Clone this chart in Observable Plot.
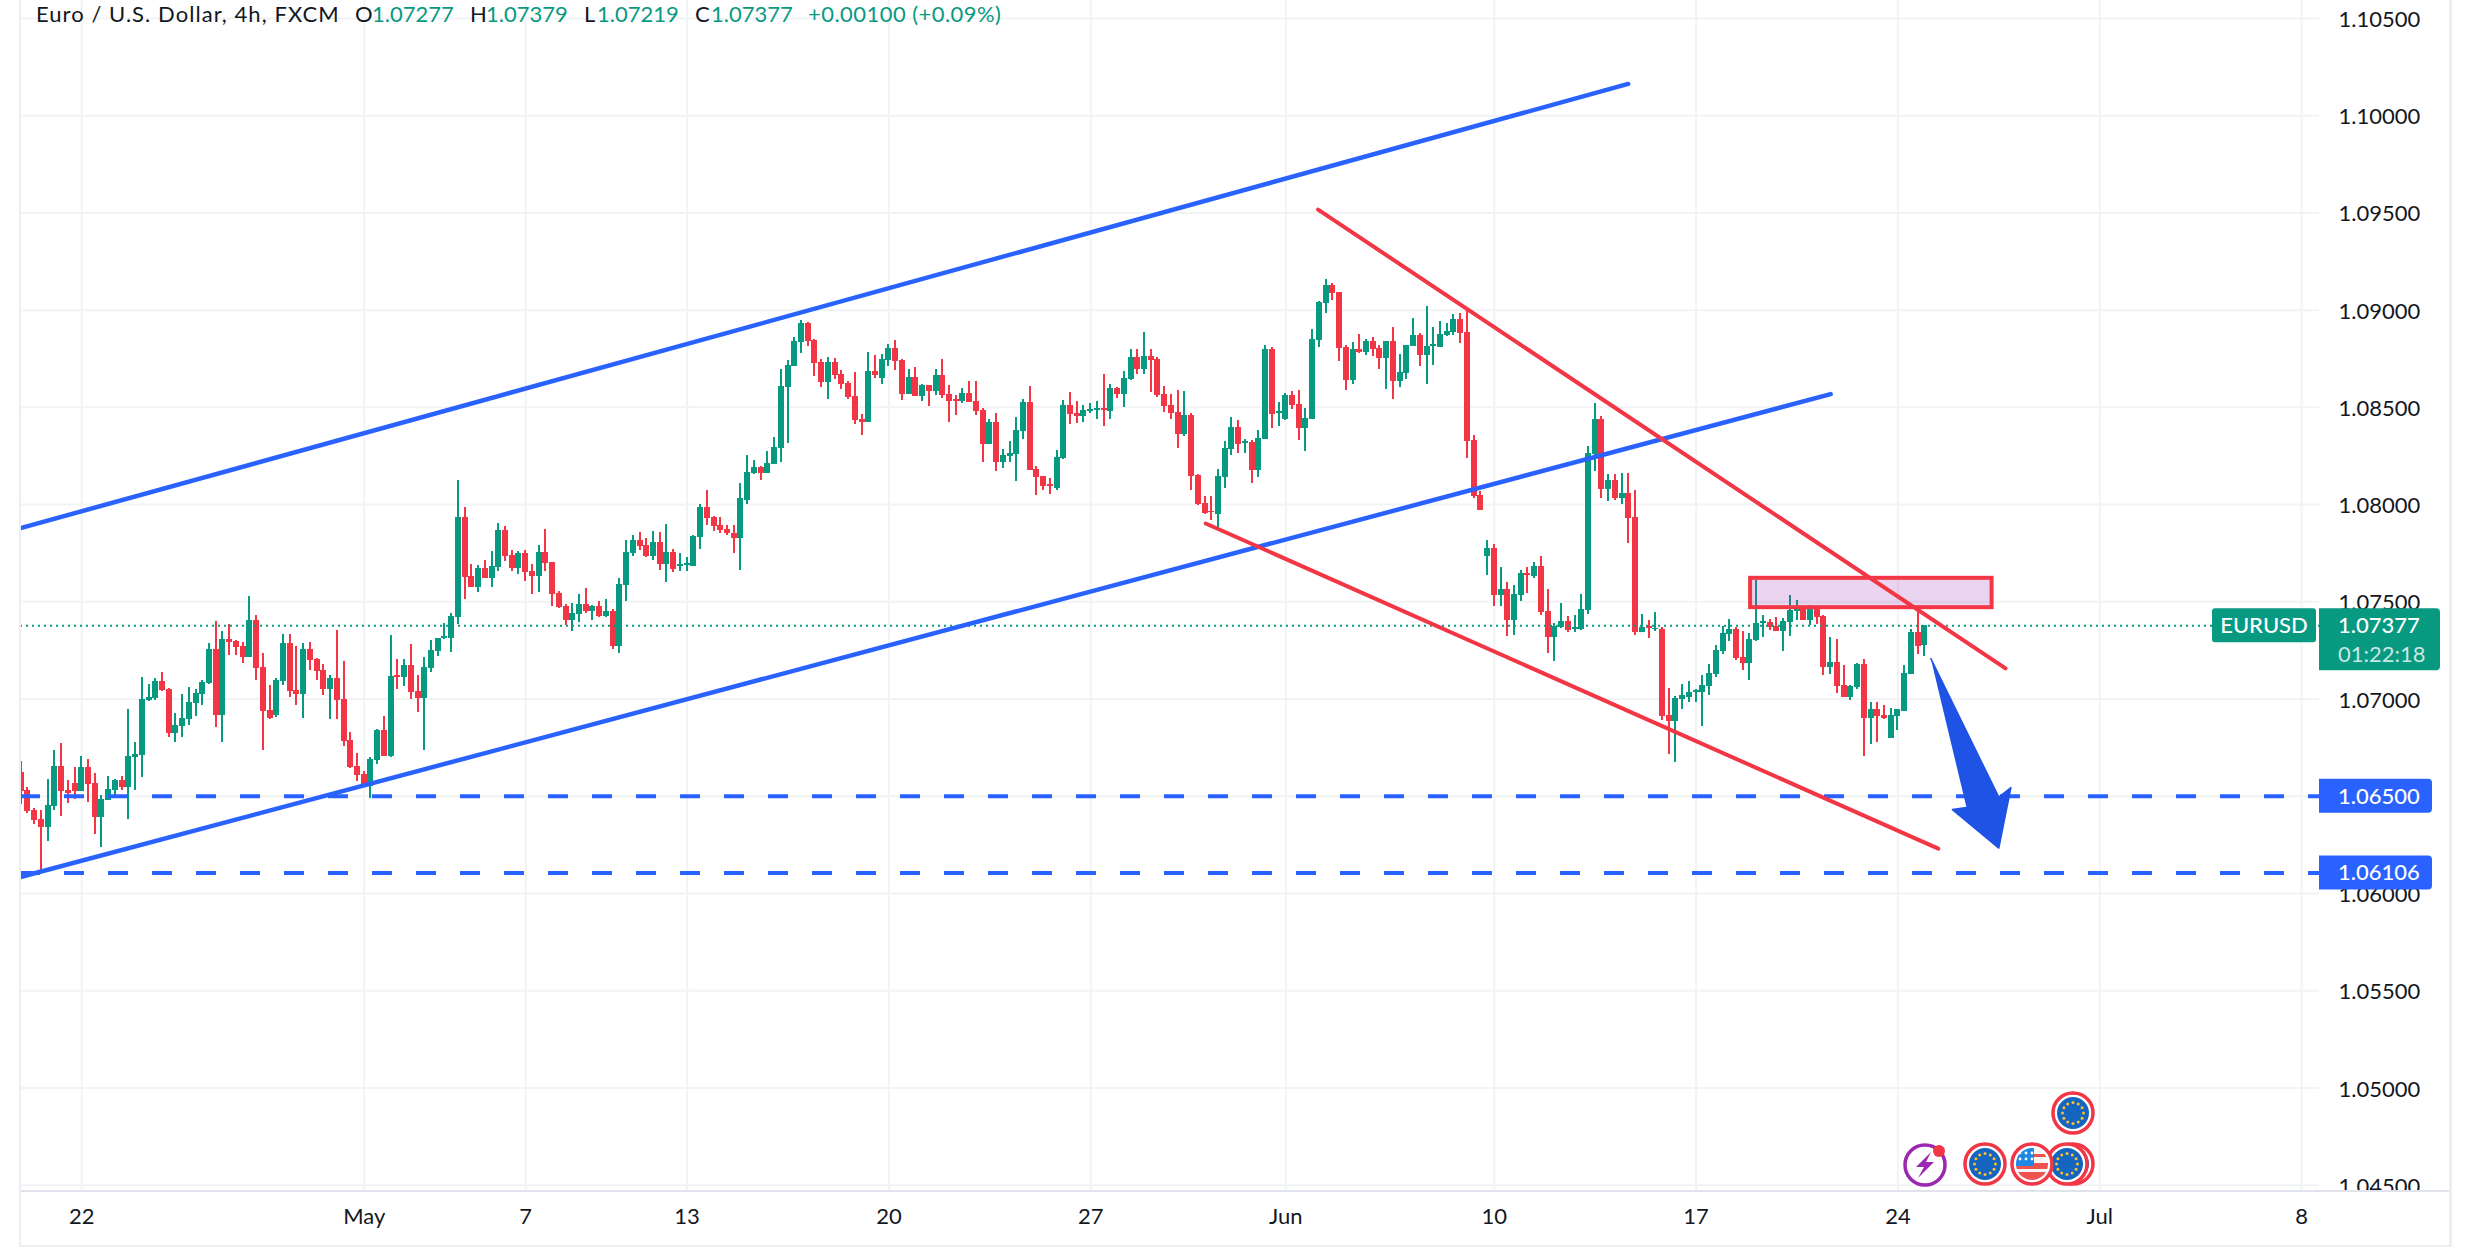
<!DOCTYPE html>
<html><head><meta charset="utf-8">
<script src="https://cdn.jsdelivr.net/npm/d3@7"></script>
<script src="https://cdn.jsdelivr.net/npm/@observablehq/plot@0.6"></script>
<style>html,body{margin:0;padding:0;background:#fff;overflow:hidden}svg{display:block}</style>
</head><body><div id="chart"></div>
<script>
const opens = [
1.06622,1.06530,1.06427,1.06380,1.06339,1.06447,1.06653,1.06530,1.06566,1.06524,
1.06648,1.06566,1.06391,1.06478,1.06530,1.06581,1.06545,1.06700,1.06710,1.06993,
1.07004,1.07091,1.07050,1.06823,1.06860,1.06896,1.06978,1.07024,1.07081,1.07256,
1.06916,1.07308,1.07298,1.07272,1.07215,1.07406,1.07164,1.06942,1.06916,1.07091,
1.07287,1.07045,1.07024,1.07256,1.07205,1.07148,1.07050,1.07107,1.06999,1.06787,
1.06653,1.06612,1.06550,1.06684,1.06839,1.06705,1.07122,1.07112,1.07174,1.07040,
1.07005,1.07158,1.07246,1.07313,1.07313,1.07421,1.07936,1.07632,1.07575,1.07673,
1.07622,1.07679,1.07869,1.07740,1.07673,1.07751,1.07658,1.07632,1.07756,1.07704,
1.07545,1.07478,1.07405,1.07436,1.07488,1.07452,1.07478,1.07426,1.07452,1.07271,
1.07586,1.07751,1.07818,1.07792,1.07735,1.07807,1.07694,1.07756,1.07684,1.07689,
1.07684,1.07833,1.07983,1.07936,1.07895,1.07874,1.07854,1.07828,1.08019,1.08158,
1.08189,1.08158,1.08204,1.08287,1.08601,1.08709,1.08833,1.08931,1.08843,1.08730,
1.08627,1.08730,1.08668,1.08622,1.08555,1.08436,1.08421,1.08684,1.08648,1.08740,
1.08802,1.08740,1.08565,1.08653,1.08555,1.08611,1.08581,1.08663,1.08565,1.08539,
1.08529,1.08570,1.08529,1.08483,1.08307,1.08421,1.08215,1.08246,1.08256,1.08374,
1.08524,1.08179,1.08142,1.08101,1.08081,1.08235,1.08508,1.08467,1.08452,1.08477,
1.08483,1.08493,1.08477,1.08596,1.08566,1.08643,1.08756,1.08694,1.08761,1.08746,
1.08566,1.08509,1.08473,1.08359,1.08457,1.08148,1.08004,1.07963,1.07947,1.08138,
1.08282,1.08396,1.08313,1.08318,1.08174,1.08334,1.08798,1.08468,1.08437,1.08560,
1.08514,1.08390,1.08437,1.08844,1.09036,1.09127,1.09091,1.08808,1.08638,1.08798,
1.08782,1.08839,1.08803,1.08751,1.08839,1.08633,1.08673,1.08812,1.08869,1.08766,
1.08812,1.08807,1.08869,1.08884,1.08951,1.08884,1.08328,1.08045,1.07731,1.07773,
1.07531,1.07562,1.07402,1.07531,1.07644,1.07629,1.07680,1.07449,1.07315,1.07366,
1.07397,1.07356,1.07356,1.07454,1.08256,1.08436,1.08076,1.08123,1.08030,1.08056,
1.07932,1.07344,1.07375,1.07360,1.07360,1.06918,1.06887,1.07000,1.07010,1.07036,
1.07036,1.07067,1.07129,1.07247,1.07334,1.07360,1.07216,1.07185,1.07303,1.07391,
1.07396,1.07375,1.07350,1.07396,1.07452,1.07468,1.07406,1.07463,1.07427,1.07165,
1.07190,1.07072,1.07010,1.07062,1.07180,1.06902,1.06944,1.06918,1.06795,1.06913,
1.06938,1.07129,1.07344,1.07277];
const highs = [
1.06679,1.06543,1.06440,1.06427,1.06586,1.06736,1.06772,1.06581,1.06648,1.06705,
1.06689,1.06617,1.06504,1.06602,1.06586,1.06602,1.06947,1.06777,1.07112,1.07076,
1.07107,1.07138,1.07055,1.06927,1.07024,1.07061,1.07050,1.07097,1.07287,1.07401,
1.07349,1.07385,1.07303,1.07292,1.07530,1.07432,1.07236,1.07071,1.07107,1.07334,
1.07334,1.07272,1.07287,1.07292,1.07210,1.07179,1.07122,1.07354,1.07195,1.06829,
1.06720,1.06628,1.06700,1.06844,1.06911,1.07329,1.07205,1.07205,1.07282,1.07122,
1.07215,1.07302,1.07313,1.07390,1.07441,1.08122,1.07983,1.07694,1.07689,1.07715,
1.07761,1.07905,1.07890,1.07766,1.07761,1.07766,1.07694,1.07792,1.07874,1.07704,
1.07555,1.07488,1.07493,1.07539,1.07570,1.07483,1.07503,1.07514,1.07462,1.07622,
1.07818,1.07843,1.07859,1.07828,1.07864,1.07859,1.07900,1.07771,1.07751,1.07730,
1.07843,1.07998,1.08070,1.07941,1.07936,1.07895,1.07895,1.08106,1.08251,1.08225,
1.08194,1.08271,1.08343,1.08694,1.08740,1.08859,1.08946,1.08936,1.08849,1.08745,
1.08756,1.08751,1.08689,1.08632,1.08678,1.08462,1.08782,1.08766,1.08771,1.08823,
1.08843,1.08745,1.08694,1.08704,1.08617,1.08611,1.08694,1.08745,1.08611,1.08560,
1.08596,1.08632,1.08632,1.08493,1.08436,1.08467,1.08282,1.08323,1.08446,1.08539,
1.08606,1.08194,1.08142,1.08132,1.08276,1.08534,1.08575,1.08529,1.08508,1.08519,
1.08529,1.08668,1.08617,1.08601,1.08684,1.08798,1.08798,1.08885,1.08798,1.08756,
1.08607,1.08566,1.08586,1.08581,1.08468,1.08153,1.08040,1.08040,1.08179,1.08323,
1.08447,1.08432,1.08334,1.08328,1.08380,1.08818,1.08808,1.08524,1.08571,1.08581,
1.08586,1.08493,1.08901,1.09045,1.09158,1.09136,1.09093,1.08818,1.08834,1.08875,
1.08849,1.08859,1.08818,1.08839,1.08911,1.08772,1.08817,1.08956,1.08879,1.09018,
1.08910,1.08941,1.08930,1.08977,1.08982,1.08997,1.08354,1.08066,1.07814,1.07793,
1.07675,1.07598,1.07582,1.07660,1.07675,1.07701,1.07731,1.07562,1.07387,1.07490,
1.07423,1.07428,1.07536,1.08297,1.08519,1.08452,1.08153,1.08153,1.08159,1.08159,
1.08071,1.07437,1.07406,1.07447,1.07370,1.07057,1.07015,1.07077,1.07093,1.07051,
1.07123,1.07180,1.07278,1.07375,1.07411,1.07370,1.07349,1.07339,1.07612,1.07432,
1.07411,1.07421,1.07416,1.07535,1.07509,1.07473,1.07483,1.07468,1.07432,1.07319,
1.07308,1.07175,1.07072,1.07185,1.07206,1.06980,1.06980,1.06969,1.06954,1.06944,
1.07175,1.07360,1.07468,1.07379];
const lows = [
1.06457,1.06411,1.06354,1.06102,1.06267,1.06427,1.06396,1.06463,1.06483,1.06524,
1.06468,1.06303,1.06236,1.06478,1.06488,1.06530,1.06380,1.06530,1.06597,1.06988,
1.06993,1.07040,1.06803,1.06777,1.06803,1.06865,1.06911,1.06968,1.07076,1.06854,
1.06777,1.07225,1.07225,1.07184,1.07215,1.07097,1.06736,1.06896,1.06906,1.07071,
1.07009,1.06968,1.06901,1.07148,1.07097,1.07019,1.06896,1.06896,1.06756,1.06643,
1.06576,1.06545,1.06488,1.06664,1.06705,1.06700,1.07050,1.07066,1.06999,1.06932,
1.06735,1.07137,1.07220,1.07307,1.07240,1.07385,1.07514,1.07575,1.07550,1.07622,
1.07575,1.07658,1.07709,1.07658,1.07642,1.07606,1.07539,1.07550,1.07658,1.07478,
1.07467,1.07380,1.07349,1.07395,1.07441,1.07405,1.07421,1.07421,1.07256,1.07235,
1.07503,1.07735,1.07766,1.07730,1.07715,1.07663,1.07601,1.07653,1.07658,1.07658,
1.07684,1.07771,1.07895,1.07864,1.07854,1.07843,1.07751,1.07663,1.08003,1.08153,
1.08122,1.08158,1.08204,1.08215,1.08313,1.08709,1.08776,1.08812,1.08658,1.08601,
1.08539,1.08642,1.08591,1.08539,1.08410,1.08354,1.08421,1.08648,1.08617,1.08709,
1.08689,1.08534,1.08565,1.08555,1.08529,1.08503,1.08560,1.08544,1.08421,1.08457,
1.08519,1.08524,1.08457,1.08215,1.08307,1.08168,1.08184,1.08215,1.08117,1.08333,
1.08173,1.08045,1.08070,1.08050,1.08070,1.08230,1.08410,1.08416,1.08421,1.08467,
1.08436,1.08400,1.08436,1.08544,1.08499,1.08638,1.08669,1.08669,1.08576,1.08550,
1.08473,1.08437,1.08287,1.08349,1.08071,1.07994,1.07947,1.07916,1.07870,1.08081,
1.08251,1.08262,1.08262,1.08107,1.08138,1.08334,1.08390,1.08401,1.08432,1.08488,
1.08329,1.08272,1.08437,1.08808,1.08985,1.09050,1.08736,1.08586,1.08617,1.08777,
1.08767,1.08761,1.08694,1.08591,1.08540,1.08602,1.08642,1.08812,1.08709,1.08616,
1.08714,1.08807,1.08863,1.08869,1.08827,1.08236,1.08030,1.07968,1.07634,1.07474,
1.07474,1.07320,1.07325,1.07500,1.07541,1.07618,1.07428,1.07232,1.07191,1.07361,
1.07341,1.07341,1.07351,1.07433,1.08169,1.08030,1.08015,1.08020,1.07999,1.07798,
1.07325,1.07344,1.07314,1.07350,1.06892,1.06717,1.06676,1.06944,1.06985,1.06985,
1.06861,1.07021,1.07113,1.07231,1.07298,1.07200,1.07149,1.07098,1.07298,1.07319,
1.07355,1.07350,1.07247,1.07324,1.07406,1.07406,1.07380,1.07385,1.07123,1.07129,
1.07031,1.07010,1.06995,1.07051,1.06707,1.06764,1.06779,1.06897,1.06795,1.06836,
1.06938,1.07129,1.07231,1.07219];
const closes = [
1.06526,1.06421,1.06375,1.06339,1.06452,1.06653,1.06524,1.06514,1.06524,1.06648,
1.06561,1.06391,1.06483,1.06535,1.06581,1.06545,1.06705,1.06715,1.06999,1.07009,
1.07091,1.07045,1.06823,1.06865,1.06901,1.06983,1.07030,1.07086,1.07256,1.06916,
1.07308,1.07292,1.07267,1.07215,1.07406,1.07158,1.06937,1.06901,1.07097,1.07287,
1.07040,1.07024,1.07256,1.07200,1.07143,1.07050,1.07107,1.06993,1.06782,1.06648,
1.06607,1.06550,1.06689,1.06839,1.06705,1.07117,1.07112,1.07174,1.07035,1.07004,
1.07163,1.07251,1.07313,1.07323,1.07426,1.07936,1.07627,1.07575,1.07673,1.07622,
1.07684,1.07869,1.07735,1.07673,1.07751,1.07653,1.07632,1.07756,1.07699,1.07539,
1.07472,1.07405,1.07441,1.07488,1.07452,1.07478,1.07426,1.07452,1.07271,1.07591,
1.07756,1.07818,1.07787,1.07735,1.07807,1.07694,1.07756,1.07668,1.07694,1.07699,
1.07838,1.07983,1.07931,1.07890,1.07869,1.07849,1.07828,1.08029,1.08163,1.08189,
1.08158,1.08209,1.08292,1.08606,1.08714,1.08838,1.08931,1.08838,1.08725,1.08627,
1.08730,1.08663,1.08617,1.08550,1.08431,1.08421,1.08684,1.08663,1.08745,1.08802,
1.08735,1.08565,1.08653,1.08555,1.08611,1.08581,1.08663,1.08560,1.08529,1.08529,
1.08570,1.08524,1.08477,1.08307,1.08421,1.08215,1.08251,1.08261,1.08380,1.08524,
1.08173,1.08137,1.08091,1.08091,1.08240,1.08508,1.08462,1.08452,1.08483,1.08488,
1.08493,1.08483,1.08596,1.08565,1.08648,1.08756,1.08694,1.08761,1.08741,1.08560,
1.08504,1.08468,1.08359,1.08457,1.08143,1.07999,1.07952,1.07957,1.08143,1.08287,
1.08396,1.08308,1.08323,1.08174,1.08339,1.08798,1.08462,1.08478,1.08560,1.08509,
1.08390,1.08442,1.08849,1.09041,1.09127,1.09088,1.08804,1.08638,1.08798,1.08782,
1.08839,1.08798,1.08751,1.08839,1.08633,1.08679,1.08817,1.08869,1.08766,1.08812,
1.08822,1.08874,1.08889,1.08951,1.08879,1.08323,1.08040,1.07968,1.07773,1.07531,
1.07562,1.07402,1.07536,1.07644,1.07634,1.07680,1.07443,1.07315,1.07371,1.07397,
1.07351,1.07366,1.07459,1.08261,1.08436,1.08076,1.08123,1.08030,1.08056,1.07927,
1.07341,1.07370,1.07365,1.07365,1.06913,1.06887,1.07005,1.07021,1.07036,1.07046,
1.07072,1.07134,1.07252,1.07339,1.07360,1.07211,1.07185,1.07308,1.07391,1.07401,
1.07370,1.07350,1.07401,1.07457,1.07468,1.07406,1.07463,1.07421,1.07165,1.07190,
1.07067,1.07010,1.07067,1.07180,1.06902,1.06944,1.06913,1.06902,1.06918,1.06944,
1.07134,1.07344,1.07272,1.07377];

const priceTicks = d3.range(0, 13).map(k => +(1.045 + k * 0.005).toFixed(3));
const dateTickBars = [9, 51, 75, 99, 129, 159, 188, 219, 249, 279, 309, 339];
const dateTickLabels = ["22", "May", "7", "13", "20", "27", "Jun", "10", "17", "24", "Jul", "8"];
const levels = [1.065, 1.06106];
const lastPrice = 1.07377;
const channels = [
  {name: "upper blue", color: "#2962FF", width: 4.5, pts: [[-0.1, 1.07879], [238.9, 1.10163]]},
  {name: "lower blue", color: "#2962FF", width: 4.5, pts: [[-0.1, 1.06085], [269, 1.08568]]},
  {name: "upper red", color: "#F23645", width: 4, pts: [[192.8, 1.09517], [295, 1.07158]]},
  {name: "lower red", color: "#F23645", width: 4, pts: [[176.1, 1.07903], [285, 1.06231]]}
];
const zone = {x1: 257.1, x2: 293, y1: 1.07470, y2: 1.07621};
const arrowBars = [283.9, 294, 295.8, 294, 287.1, 289.2];
const arrowPrices = [1.07208, 1.06496, 1.06545, 1.06234, 1.06432, 1.06442];

const bars = opens.map((o, i) => ({i, o, h: highs[i], l: lows[i], c: closes[i]}));
const up = bars.filter(d => d.c >= d.o), down = bars.filter(d => d.c < d.o);
const UP = "#089981", DOWN = "#F23645", BLUE = "#2962FF", GRID = "#f2f3f5", LINE = "#e0e3eb", EDGE = "#eceef3", INK = "#131722";
const FONT = "Lato, 'Liberation Sans', sans-serif";
const tickLabel = new Map(dateTickBars.map((b, i) => [b, dateTickLabels[i]]));
const W = 2470, H = 1248, L = 20, R = 2319, B = 1191;

function eventBadge(g, cx, cy, kind) {
  g.append("circle").attr("cx", cx).attr("cy", cy).attr("r", 20).attr("fill", "#fff").attr("stroke", DOWN).attr("stroke-width", 3.5);
  if (kind === "eu") {
    g.append("circle").attr("cx", cx).attr("cy", cy).attr("r", 16).attr("fill", "#1565C0");
    d3.range(12).forEach(k => {
      const a = k / 12 * 2 * Math.PI;
      g.append("circle").attr("cx", cx + 10.5 * Math.cos(a)).attr("cy", cy + 10.5 * Math.sin(a)).attr("r", 1.5).attr("fill", "#FBC02D");
    });
  } else {
    const cid = "usclip" + cx;
    g.append("clipPath").attr("id", cid).append("circle").attr("cx", cx).attr("cy", cy).attr("r", 16);
    const f = g.append("g").attr("clip-path", `url(#${cid})`);
    f.append("rect").attr("x", cx - 16).attr("y", cy - 16).attr("width", 32).attr("height", 32).attr("fill", "#f5f5f5");
    [[-10, 3], [-1, 6], [8, 8]].forEach(([dy, h]) => f.append("rect").attr("x", cx - 16).attr("y", cy + dy).attr("width", 32).attr("height", h).attr("fill", "#EF5350"));
    f.append("rect").attr("x", cx - 16).attr("y", cy - 16).attr("width", 18).attr("height", 18).attr("fill", "#1E88E5");
    [-12, -6, 0].forEach(sx => [-11, -5].forEach(sy => f.append("circle").attr("cx", cx + sx).attr("cy", cy + sy).attr("r", 1.4).attr("fill", "#fff")));
  }
}

const overlay = (index, scales) => {
  const g = d3.create("svg:g").attr("text-anchor", "start");
  const y = scales.y;
  // bottom time-scale panel and outer borders
  g.append("rect").attr("x", 0).attr("y", B).attr("width", 2449).attr("height", H - B - 2).attr("fill", "#fff");
  g.append("rect").attr("x", 2449).attr("y", 0).attr("width", 21).attr("height", H).attr("fill", "#fff");
  g.append("rect").attr("x", L).attr("y", B - 1).attr("width", 2429).attr("height", 2).attr("fill", LINE);
  g.append("rect").attr("x", L - 1).attr("y", 0).attr("width", 2).attr("height", H - 1).attr("fill", EDGE);
  g.append("rect").attr("x", L - 1).attr("y", H - 3).attr("width", 2433).attr("height", 2).attr("fill", EDGE);
  g.append("rect").attr("x", 2449).attr("y", 0).attr("width", 3).attr("height", H - 1).attr("fill", EDGE);
  // price labels
  const yLast = y(lastPrice);
  g.append("rect").attr("x", 2212).attr("y", yLast - 17).attr("width", 104).attr("height", 34).attr("rx", 3).attr("fill", UP);
  g.append("text").attr("x", 2264).attr("y", yLast).attr("dy", "0.36em").attr("text-anchor", "middle").attr("fill", "#fff").attr("font-size", 22).attr("font-weight", 500).text("EURUSD");
  g.append("path").attr("d", `M2319 ${yLast - 17}H2436a4 4 0 0 1 4 4V${yLast + 41}a4 4 0 0 1-4 4H2319Z`).attr("fill", UP);
  g.append("text").attr("x", 2338).attr("y", yLast).attr("dy", "0.36em").attr("fill", "#fff").attr("font-size", 22).attr("font-weight", 500).text("1.07377");
  g.append("text").attr("x", 2338).attr("y", yLast + 29).attr("dy", "0.34em").attr("fill", "#fff").attr("fill-opacity", 0.78).attr("font-size", 22).text("01:22:18");
  levels.forEach(v => {
    const yy = y(v);
    g.append("path").attr("d", `M2319 ${yy - 17}H2428a4 4 0 0 1 4 4V${yy + 13}a4 4 0 0 1-4 4H2319Z`).attr("fill", BLUE);
    g.append("text").attr("x", 2338).attr("y", yy).attr("dy", "0.36em").attr("fill", "#fff").attr("font-size", 22).attr("font-weight", 500).text(d3.format(".5f")(v));
  });
  // legend header
  const head = g.append("g").attr("font-size", 22);
  const put = (x, s, fill, spacing = 0) => head.append("text").attr("x", x).attr("y", 14).attr("dy", "0.36em").attr("fill", fill).attr("letter-spacing", spacing).text(s);
  put(36, "Euro / U.S. Dollar, 4h, FXCM", INK, 1.05);
  put(355, "O", INK); put(372, "1.07277", UP);
  put(470, "H", INK); put(486, "1.07379", UP);
  put(584, "L", INK); put(597, "1.07219", UP);
  put(695, "C", INK); put(711, "1.07377", UP);
  put(808, "+0.00100 (+0.09%)", UP, 0.45);
  // events
  const cxE = 1925, cyE = 1165;
  g.append("circle").attr("cx", cxE).attr("cy", cyE).attr("r", 20).attr("fill", "#fff").attr("stroke", "#9C27B0").attr("stroke-width", 3.5);
  g.append("path").attr("d", `M${cxE + 6} ${cyE - 13}L${cxE - 9} ${cyE + 2}H${cxE - 1}L${cxE - 7} ${cyE + 13}L${cxE + 9} ${cyE - 3}H${cxE + 1}Z`).attr("fill", "#9C27B0");
  g.append("circle").attr("cx", cxE + 14).attr("cy", cyE - 14).attr("r", 6).attr("fill", DOWN);
  eventBadge(g, 1985, 1164, "eu");
  eventBadge(g, 2073, 1164, "eu");
  eventBadge(g, 2067, 1164, "eu");
  eventBadge(g, 2032, 1164, "us");
  eventBadge(g, 2073, 1113, "eu");
  return g.node();
};

const chart = Plot.plot({
  width: W, height: H,
  marginLeft: L, marginRight: W - R, marginTop: 0, marginBottom: H - B,
  style: {fontFamily: FONT, background: "#fff", color: INK},
  x: {type: "linear", domain: [0, 339], range: [20.7, 2301]},
  y: {type: "linear", domain: [1.045, 1.105], range: [1184.8, 17.9]},
  marks: [
    Plot.gridY(priceTicks, {stroke: GRID, strokeOpacity: 1, strokeWidth: 2}),
    Plot.gridX(dateTickBars, {stroke: GRID, strokeOpacity: 1, strokeWidth: 2}),
    Plot.ruleX(down, {x: "i", y1: "l", y2: "h", stroke: DOWN, strokeWidth: 2, dx: -0.5, shapeRendering: "crispEdges", clip: true}),
    Plot.ruleX(up, {x: "i", y1: "l", y2: "h", stroke: UP, strokeWidth: 2, dx: -0.5, shapeRendering: "crispEdges", clip: true}),
    Plot.ruleX(down, {x: "i", y1: "o", y2: "c", stroke: DOWN, strokeWidth: 6, dx: -0.5, shapeRendering: "crispEdges", clip: true}),
    Plot.ruleX(up, {x: "i", y1: "o", y2: "c", stroke: UP, strokeWidth: 6, dx: -0.5, shapeRendering: "crispEdges", clip: true}),
    Plot.ruleY([lastPrice], {stroke: UP, strokeWidth: 2, strokeDasharray: "2,4"}),
    ...levels.map(v => Plot.ruleY([v], {stroke: BLUE, strokeWidth: 4, strokeDasharray: "20,24"})),
    Plot.rect([zone], {x1: "x1", x2: "x2", y1: "y1", y2: "y2", fill: "#9C27B0", fillOpacity: 0.2}),
    Plot.rect([zone], {x1: "x1", x2: "x2", y1: "y1", y2: "y2", stroke: DOWN, strokeWidth: 4}),
    ...channels.map(c => Plot.line(c.pts, {x: d => d[0], y: d => d[1], stroke: c.color, strokeWidth: c.width, strokeLinecap: "round", clip: true})),
    Plot.line(arrowBars.map((b, k) => [b, arrowPrices[k]]), {x: d => d[0], y: d => d[1], fill: "#1E53E5", stroke: "#1E53E5", strokeWidth: 1.5, strokeLinejoin: "round"}),
    Plot.axisY(priceTicks, {anchor: "right", tickSize: 0, tickPadding: 19, label: null, tickFormat: d3.format(".5f"), fontSize: 22, textAnchor: "start", fill: INK, dy: 1.5}),
    overlay,
    Plot.axisX(dateTickBars, {anchor: "bottom", tickSize: 0, tickPadding: 17, label: null, tickFormat: d => tickLabel.get(d), fontSize: 22, fill: INK})
  ]
});
document.getElementById("chart").appendChild(chart);
</script></body></html>
